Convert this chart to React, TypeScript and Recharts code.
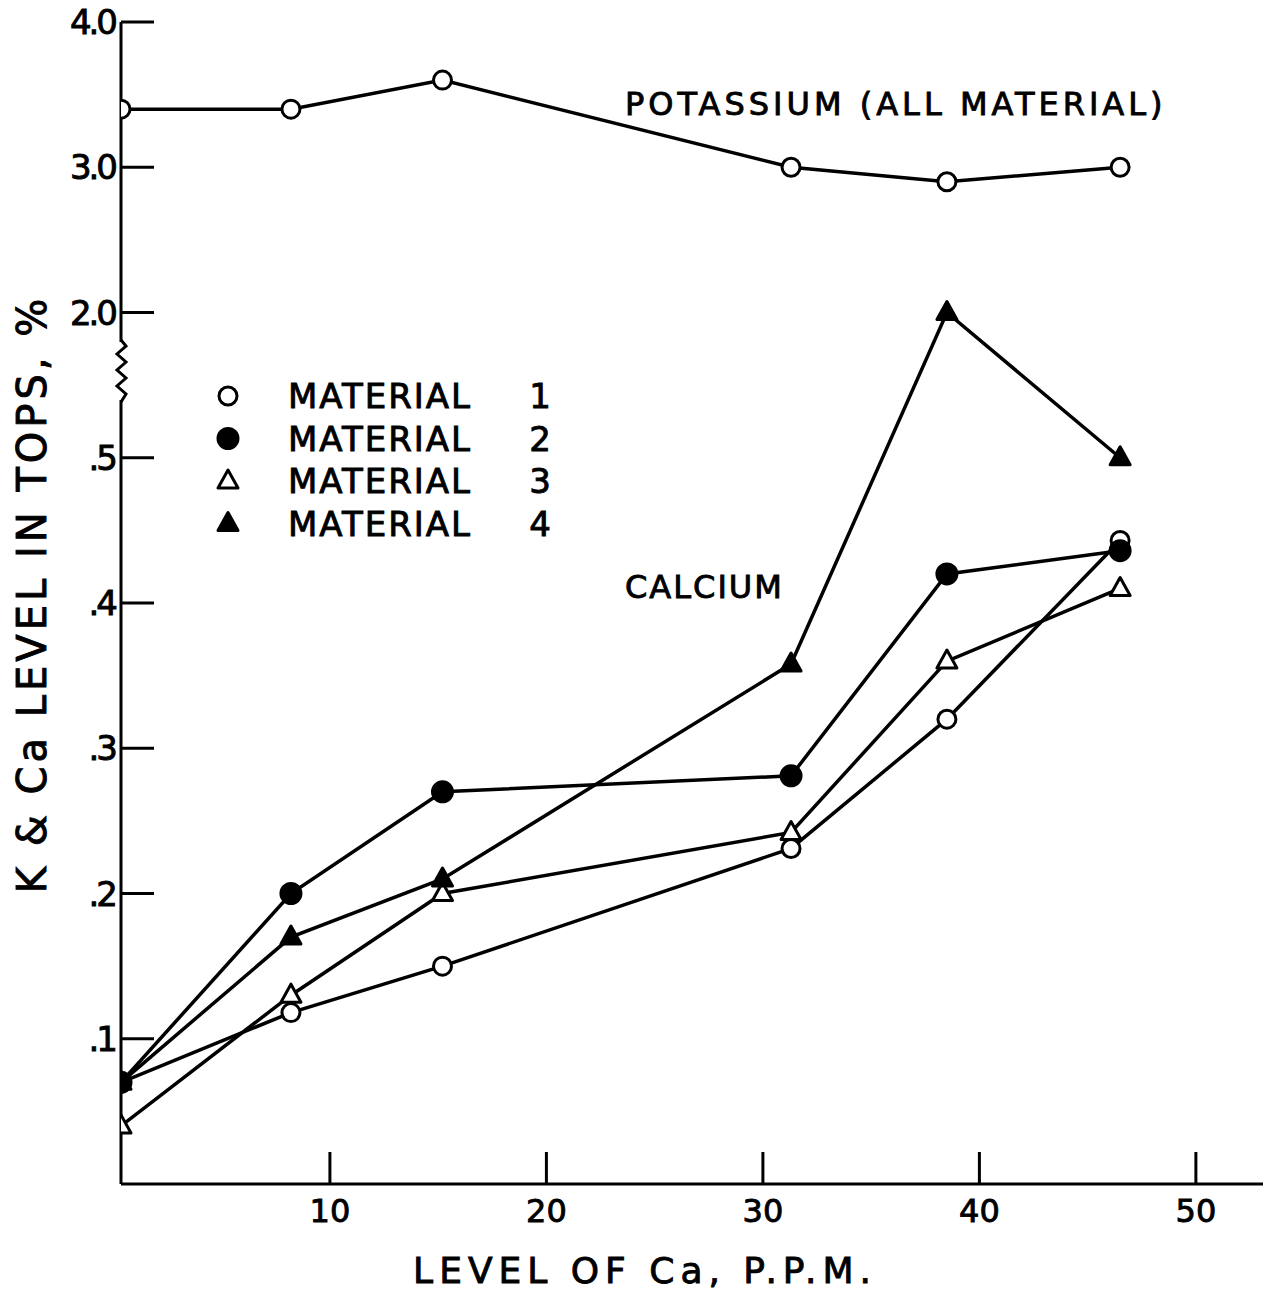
import React from "react";
import { LineChart, Line, XAxis, YAxis } from "recharts";

// Ca level in the nutrient solution, p.p.m.
const CA_PPM = [0.35, 8.2, 15.2, 31.3, 38.5, 46.5];

// K and Ca level in tops, %
const POTASSIUM = [3.4, 3.4, 3.6, 3.0, 2.9, 3.0];
const MATERIAL_1 = [0.07, 0.118, 0.15, 0.231, 0.32, 0.443];
const MATERIAL_2 = [0.07, 0.2, 0.27, 0.281, 0.42, 0.436];
const MATERIAL_3 = [0.04, 0.13, 0.2, 0.242, 0.36, 0.41];
const MATERIAL_4 = [0.07, 0.17, 0.21, 0.358, 2.0, 0.5];

const X_TICKS = [10, 20, 30, 40, 50];
const Y_TICK_VALUES = [0.1, 0.2, 0.3, 0.4, 0.5, 2.0, 3.0, 4.0];
const Y_TICK_LABELS = [".1", ".2", ".3", ".4", ".5", "2.0", "3.0", "4.0"];

const LEGEND_NAMES = ["MATERIAL", "MATERIAL", "MATERIAL", "MATERIAL"];
const LEGEND_NUMBERS = ["1", "2", "3", "4"];

const FONT = "'DejaVu Sans', sans-serif";
const W = 1263;
const H = 1294;
const PLOT_LEFT = 121;
const LW = 3.5;

// thicken the lettering a little, like the hand-lettered original
const ink = { fill: "#000", stroke: "#000", strokeWidth: 0.9, fontFamily: FONT };

// broken scale: calcium below the break, potassium above it
const toAxis = (v: number) => (v <= 0.5 ? v * 10 : v + 4);
const toPoints = (vals: number[]) => CA_PPM.map((x, i) => ({ x, y: toAxis(vals[i]) }));

type Shape = "circle" | "dot" | "tri" | "filledTri";

function Marker({ cx, cy, shape }: { cx: number; cy: number; shape: Shape }) {
  if (shape === "circle" || shape === "dot") {
    return (
      <circle cx={cx} cy={cy} r={shape === "dot" ? 10 : 9}
        fill={shape === "dot" ? "#000" : "#fff"} stroke="#000" strokeWidth={3} />
    );
  }
  const d = `M${cx},${cy - 11} L${cx - 10},${cy + 7} L${cx + 10},${cy + 7} Z`;
  return <path d={d} fill={shape === "filledTri" ? "#000" : "#fff"} stroke="#000" strokeWidth={3} strokeLinejoin="round" />;
}

const dotFor = (shape: Shape) => (p: any) => (
  <Marker key={`${shape}-${p.index}`} cx={p.cx} cy={p.cy} shape={shape} />
);

function XTick({ x, y, payload }: any) {
  return (
    <g>
      <line x1={x} x2={x} y1={y} y2={y - 32} stroke="#000" strokeWidth={3} />
      <text x={x} y={y + 38} textAnchor="middle" fontSize={32} {...ink}>
        {payload.value}
      </text>
    </g>
  );
}

function YTick({ y, payload }: any) {
  const i = Y_TICK_VALUES.findIndex((v) => toAxis(v) === payload.value);
  return (
    <g>
      <line x1={PLOT_LEFT} x2={PLOT_LEFT + 33} y1={y} y2={y} stroke="#000" strokeWidth={3} />
      <text x={PLOT_LEFT - 6} y={y} dy="0.36em" textAnchor="end" fontSize={34}
        letterSpacing={-3} {...ink}>
        {Y_TICK_LABELS[i]}
      </text>
    </g>
  );
}

const LEGEND_SHAPES: Shape[] = ["circle", "dot", "tri", "filledTri"];

export default function App() {
  return (
    <div style={{ position: "fixed", left: 0, top: 0, width: W, height: H, overflow: "hidden", background: "#fff" }}>
      <LineChart width={W} height={H} margin={{ top: 22, right: 0, bottom: 40, left: 21 }}>
        <XAxis
          dataKey="x" type="number" domain={[0.35, 53.1]} allowDataOverflow
          ticks={X_TICKS} tickSize={0} tickMargin={0} tickLine={false}
          axisLine={{ stroke: "#000", strokeWidth: 3 }} tick={<XTick />} height={70}
        />
        <YAxis
          type="number" domain={[0, 8]} allowDataOverflow width={100}
          ticks={Y_TICK_VALUES.map(toAxis)} tickSize={0} tickMargin={0} tickLine={false}
          axisLine={{ stroke: "#000", strokeWidth: 3 }} tick={<YTick />}
        />
        <Line data={toPoints(POTASSIUM)} dataKey="y" stroke="#000" strokeWidth={LW}
          dot={dotFor("circle")} isAnimationActive={false} />
        <Line data={toPoints(MATERIAL_1)} dataKey="y" stroke="#000" strokeWidth={LW}
          dot={dotFor("circle")} isAnimationActive={false} />
        <Line data={toPoints(MATERIAL_2)} dataKey="y" stroke="#000" strokeWidth={LW}
          dot={dotFor("dot")} isAnimationActive={false} />
        <Line data={toPoints(MATERIAL_3)} dataKey="y" stroke="#000" strokeWidth={LW}
          dot={dotFor("tri")} isAnimationActive={false} />
        <Line data={toPoints(MATERIAL_4)} dataKey="y" stroke="#000" strokeWidth={LW}
          dot={dotFor("filledTri")} isAnimationActive={false} />
      </LineChart>

      <svg width={W} height={H} style={{ position: "absolute", left: 0, top: 0, pointerEvents: "none" }}>
        <g transform="translate(8,8)">
          {/* axis break */}
          <rect x={106} y={334} width={14} height={58} fill="#fff" />
          <path d="M113,332 L118,338 L109,346 L118,354 L109,362 L118,370 L109,378 L118,386 L113,394"
            fill="none" stroke="#000" strokeWidth={3} />

          <text x={24} y={586} transform="rotate(-90 24 586)" textAnchor="middle" dy="0.36em"
            fontSize={40} letterSpacing={4} {...ink}>
            K &amp; Ca LEVEL IN TOPS, %
          </text>

          <text x={637} y={1262} textAnchor="middle" dy="0.36em"
            fontSize={36} letterSpacing={6} {...ink}>
            LEVEL OF Ca, P.P.M.
          </text>

          <text x={617} y={95} dy="0.36em" fontSize={32} letterSpacing={4} {...ink}>
            POTASSIUM (ALL MATERIAL)
          </text>
          <text x={617} y={578} dy="0.36em" fontSize={32} letterSpacing={2} {...ink}>
            CALCIUM
          </text>

          {LEGEND_NAMES.map((name, i) => {
            const y = 388 + i * 42.5;
            return (
              <g key={i}>
                <Marker cx={220} cy={y} shape={LEGEND_SHAPES[i]} />
                <text x={280} y={y} dy="0.36em" fontSize={34} letterSpacing={2} {...ink}>
                  {name}
                </text>
                <text x={532} y={y} dy="0.36em" textAnchor="middle" fontSize={34} {...ink}>
                  {LEGEND_NUMBERS[i]}
                </text>
              </g>
            );
          })}
        </g>
      </svg>
    </div>
  );
}
